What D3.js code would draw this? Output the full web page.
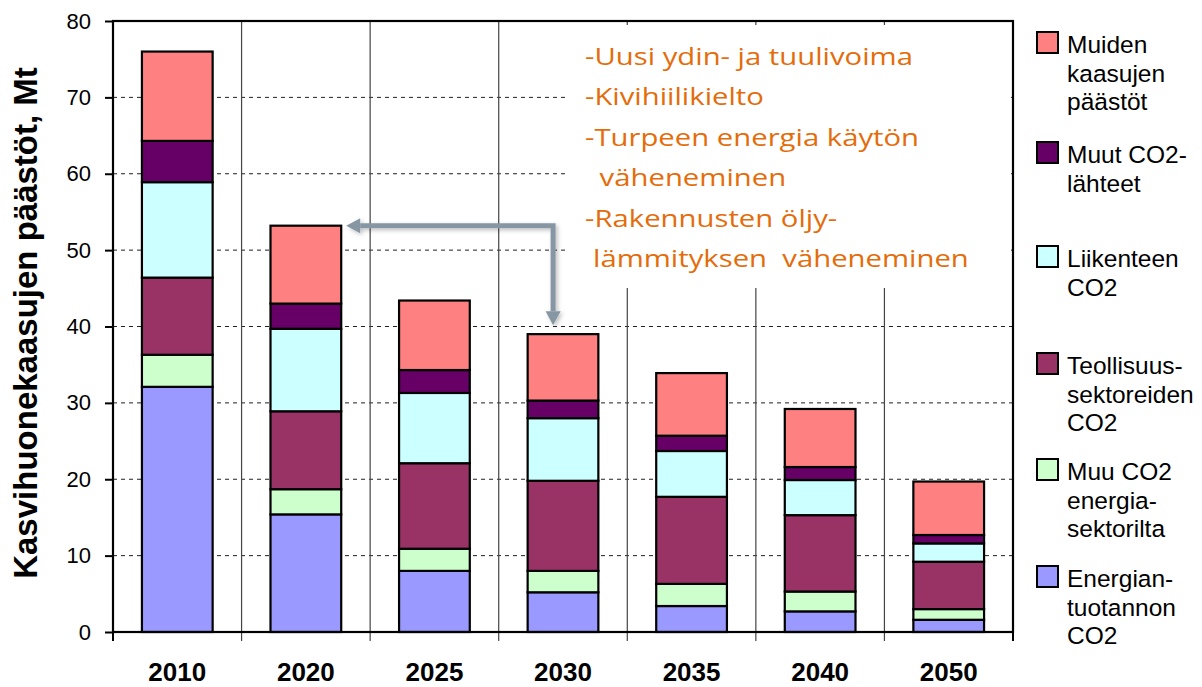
<!DOCTYPE html>
<html>
<head>
<meta charset="utf-8">
<script src="https://cdn.jsdelivr.net/npm/d3@7"></script>
<style>
  body { margin: 0; background: #fff; }
  svg { display: block; font-family: "Liberation Sans", Arial, sans-serif; }
</style>
</head>
<body>
<div id="chart"></div>
<script>
// vuodet ja sarjat (Mt)
const years = ["2010", "2020", "2025", "2030", "2035", "2040", "2050"];
const energiantuotanto = [32.1, 15.4, 8.0, 5.2, 3.4, 2.7, 1.6];
const muuEnergiasektori = [4.2, 3.3, 2.9, 2.8, 2.9, 2.6, 1.4];
const teollisuus = [10.1, 10.2, 11.2, 11.8, 11.4, 10.0, 6.2];
const liikenne = [12.5, 10.8, 9.2, 8.2, 6.0, 4.6, 2.4];
const muutCO2 = [5.4, 3.3, 3.0, 2.3, 2.0, 1.7, 1.1];
const muidenKaasujen = [11.7, 10.2, 9.1, 8.7, 8.2, 7.6, 7.0];

const seriesKeys = ["energia", "muuEnergia", "teollisuus", "liikenne", "muutCO2", "muiden"];
const seriesColors = ["#9999ff", "#ccffcc", "#993366", "#ccffff", "#660066", "#ff8080"];
const seriesLabels = [
    ["Energian-", "tuotannon", "CO2"],
    ["Muu CO2", "energia-", "sektorilta"],
    ["Teollisuus-", "sektoreiden", "CO2"],
    ["Liikenteen", "CO2"],
    ["Muut CO2-", "lähteet"],
    ["Muiden", "kaasujen", "päästöt"]
];
const yTicks = [0, 10, 20, 30, 40, 50, 60, 70, 80];
const noteLines = [
    "-Uusi ydin- ja tuulivoima",
    "-Kivihiilikielto",
    "-Turpeen energia käytön",
    " väheneminen",
    "-Rakennusten öljy-",
    "lämmityksen  väheneminen"
];
const yTitle = "Kasvihuonekaasujen päästöt, Mt";

const W = 1202, H = 687;
const plotLeft = 113, plotRight = 1013, plotTop = 21, plotBottom = 632;

const rows = years.map((yr, i) => ({
    year: yr,
    energia: energiantuotanto[i],
    muuEnergia: muuEnergiasektori[i],
    teollisuus: teollisuus[i],
    liikenne: liikenne[i],
    muutCO2: muutCO2[i],
    muiden: muidenKaasujen[i]
}));
const stacked = d3.stack().keys(seriesKeys)(rows);

const x = d3.scaleBand().domain(years).range([plotLeft, plotRight]).paddingInner(0.45).paddingOuter(0.225);
const y = d3.scaleLinear().domain([0, 80]).range([plotBottom, plotTop]);
const color = d3.scaleOrdinal().domain(seriesKeys).range(seriesColors);
const step = x.step();

const svg = d3.select("#chart").append("svg")
    .attr("width", W)
    .attr("height", H);

const defs = svg.append("defs");
defs.append("filter")
    .attr("id", "shadow")
    .attr("x", "-20%").attr("y", "-20%")
    .attr("width", "140%").attr("height", "140%")
    .append("feDropShadow")
    .attr("dx", 2).attr("dy", 2)
    .attr("stdDeviation", 2)
    .attr("flood-color", "#000")
    .attr("flood-opacity", 0.25);

// vaakaviivat
svg.append("g")
    .selectAll("line")
    .data(yTicks.filter(t => t > 0 && t < 80))
    .join("line")
    .attr("x1", plotLeft).attr("x2", plotRight)
    .attr("y1", d => y(d)).attr("y2", d => y(d))
    .attr("stroke", "#222")
    .attr("stroke-width", 1)
    .attr("stroke-dasharray", "4,4");

// pystyviivat kategorioiden välissä (ulottuvat akselin alle)
svg.append("g")
    .selectAll("line")
    .data(d3.range(1, years.length))
    .join("line")
    .attr("x1", i => plotLeft + i * step).attr("x2", i => plotLeft + i * step)
    .attr("y1", plotTop).attr("y2", plotBottom + 9)
    .attr("stroke", "#444")
    .attr("stroke-width", 1.2);

// pylväät
svg.append("g")
    .selectAll("g")
    .data(stacked)
    .join("g")
    .attr("fill", d => color(d.key))
    .selectAll("rect")
    .data(d => d)
    .join("rect")
    .attr("x", d => x(d.data.year))
    .attr("width", x.bandwidth())
    .attr("y", d => y(d[1]))
    .attr("height", d => y(d[0]) - y(d[1]))
    .attr("stroke", "#000")
    .attr("stroke-width", 2.2);

// kehys
svg.append("rect")
    .attr("x", plotLeft).attr("y", plotTop)
    .attr("width", plotRight - plotLeft).attr("height", plotBottom - plotTop)
    .attr("fill", "none")
    .attr("stroke", "#000")
    .attr("stroke-width", 2.2);

// y-akseli
const yAxis = svg.append("g")
    .attr("transform", "translate(" + plotLeft + ",0)")
    .call(d3.axisLeft(y).tickValues(yTicks).tickSize(8).tickPadding(14));
yAxis.select(".domain").remove();
yAxis.selectAll("line").attr("stroke", "#000").attr("stroke-width", 2);
yAxis.selectAll("text")
    .attr("font-family", "'Liberation Sans', Arial, sans-serif")
    .attr("font-size", 22)
    .attr("fill", "#000");

// x-akselin merkit
svg.append("g")
    .selectAll("line")
    .data([0, years.length])
    .join("line")
    .attr("x1", i => plotLeft + i * step).attr("x2", i => plotLeft + i * step)
    .attr("y1", plotBottom).attr("y2", plotBottom + 9)
    .attr("stroke", "#000")
    .attr("stroke-width", 2);

svg.append("g")
    .selectAll("text")
    .data(years)
    .join("text")
    .attr("x", d => x(d) + x.bandwidth() / 2)
    .attr("y", 681)
    .attr("text-anchor", "middle")
    .attr("font-size", 26)
    .attr("font-weight", "bold")
    .text(d => d);

svg.append("text")
    .attr("transform", "translate(37," + 323 + ") rotate(-90)")
    .attr("text-anchor", "middle")
    .attr("font-size", 33)
    .attr("font-weight", "bold")
    .text(yTitle);

// selitteet
const legendY = [587, 480, 374, 267, 163, 53];
const legend = svg.append("g")
    .selectAll("g")
    .data(seriesKeys)
    .join("g")
    .attr("transform", (d, i) => "translate(1037," + legendY[i] + ")");
legend.append("rect")
    .attr("x", 0).attr("y", -21)
    .attr("width", 21).attr("height", 21)
    .attr("fill", d => color(d))
    .attr("stroke", "#000")
    .attr("stroke-width", 2);
legend.append("text")
    .attr("font-size", 24.5)
    .attr("fill", "#000")
    .selectAll("tspan")
    .data((d, i) => seriesLabels[i])
    .join("tspan")
    .attr("x", 30)
    .attr("y", (d, j) => j * 28.7)
    .text(d => d);

// tekstilaatikko
svg.append("rect")
    .attr("x", 568).attr("y", 25)
    .attr("width", plotRight - 2 - 568).attr("height", 263)
    .attr("fill", "#fff");

// teksti on alkuperäisessä leveämpää, venytetään vaakasuunnassa
const noteX = [585, 585, 585, 592, 585, 593];
svg.append("g")
    .selectAll("text")
    .data(noteLines)
    .join("text")
    .attr("transform", (d, i) => "translate(" + noteX[i] + "," + (65 + i * 40.4) + ") scale(1.22,1)")
    .attr("font-family", "'Open Sans', Lato, sans-serif")
    .attr("font-size", 24)
    .attr("fill", "#e46c0a")
    .style("white-space", "pre")
    .text(d => d);

// nuoli 2030 -> 2020
const totals = rows.map(r => seriesKeys.reduce((s, k) => s + r[k], 0));
const ax = x("2030") + x.bandwidth() * 0.36;
const ay = y(totals[1]);
const tipX = x("2020") + x.bandwidth() + 5;
const tipY = y(totals[3]) - 9;
const head = 14, half = 7.5;
const arrow = svg.append("g")
    .attr("filter", "url(#shadow)");
arrow.append("path")
    .attr("d", "M" + (tipX + head) + "," + ay + "H" + ax + "V" + (tipY - head))
    .attr("fill", "none")
    .attr("stroke", "#8796a3")
    .attr("stroke-width", 5)
    .attr("stroke-linejoin", "miter");
arrow.append("path")
    .attr("d", "M" + tipX + "," + ay + "L" + (tipX + head) + "," + (ay - half) + "L" + (tipX + head) + "," + (ay + half) + "Z")
    .attr("fill", "#8796a3");
arrow.append("path")
    .attr("d", "M" + ax + "," + tipY + "L" + (ax - half) + "," + (tipY - head) + "L" + (ax + half) + "," + (tipY - head) + "Z")
    .attr("fill", "#8796a3");
</script>
</body>
</html>
